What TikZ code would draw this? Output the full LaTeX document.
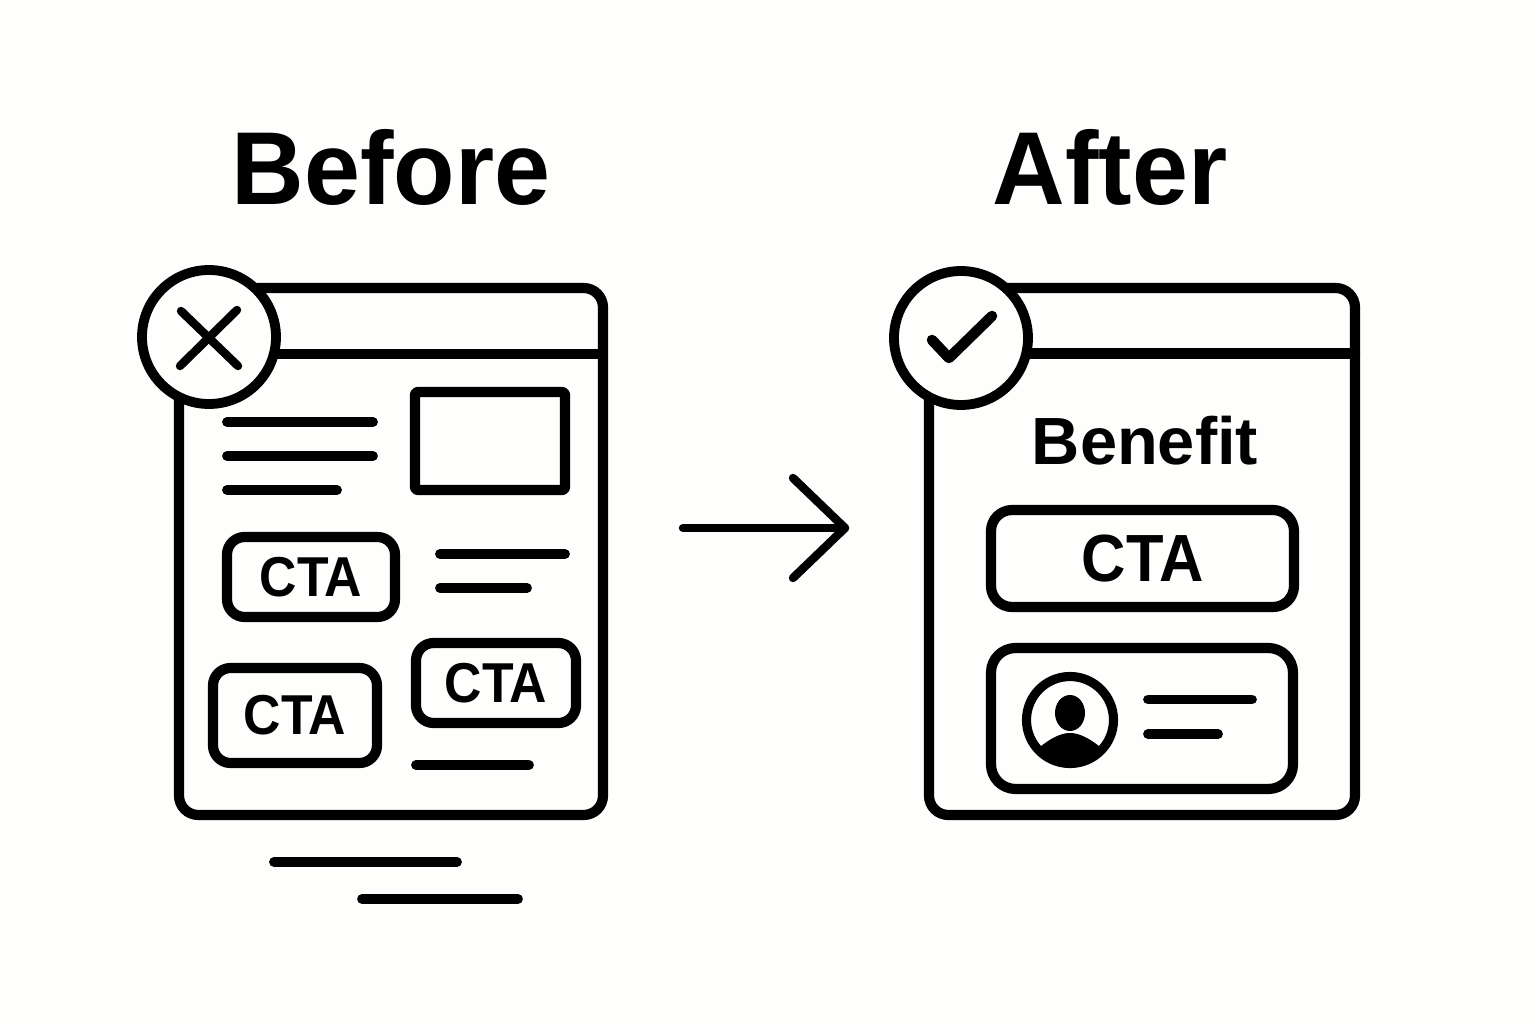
\documentclass[tikz,border=0pt]{standalone}
\usepackage{fontspec}
\usetikzlibrary{shapes.geometric}
\setmainfont{Liberation Sans}
\newfontfamily\labelfont[FakeStretch=0.92]{Liberation Sans}
\newfontfamily\titlefont[FakeStretch=0.97]{Liberation Sans}
\definecolor{paper}{HTML}{FEFEFC}
\def\px{0.02cm}
\begin{document}
\begin{tikzpicture}[x=0.02cm,y=-0.02cm,line cap=round,line join=round]
	\tikzstyle{inkline}=[line width=5.8pt]
	\tikzstyle{thinline}=[line width=5.6pt]
	\tikzstyle{crossline}=[line width=4.8pt]
	\tikzstyle{windowbox}=[draw,line width=5.8pt,rounded corners=11pt,inner sep=0pt]
	\tikzstyle{ctabox}=[draw,line width=5.8pt,rounded corners=10pt,inner sep=0pt,fill=paper,font=\labelfont\bfseries\fontsize{32}{32}\selectfont]
	\tikzstyle{badge}=[draw,circle,line width=5.6pt,fill=paper,inner sep=0pt,minimum size=134*\px]
	\tikzstyle{heading}=[anchor=base,inner sep=0pt,font=\titlefont\bfseries\fontsize{59}{59}\selectfont]
	\fill[paper] (0,0) rectangle (1536,1024);
	\useasboundingbox (0,0) rectangle (1536,1024);

	\node[heading] (beforetitle) at (391,205) {Before};
	\node[heading] (aftertitle) at (1110,205) {After};

	\node[windowbox,minimum width=424*\px,minimum height=527*\px] (beforewin) at (391,551.5) {};
	\draw[inkline] (240,354) -- (603,354);
	\node[badge] (beforebadge) at (209,337) {};
	\draw[crossline] (181,311) -- (238,366);
	\draw[crossline] (237,310) -- (180,366);

	\draw[thinline] (227,422) -- (373,422);
	\draw[thinline] (227,456) -- (373,456);
	\draw[thinline] (227,490) -- (337,490);
	\node[draw,line width=5.8pt,rounded corners=1.5pt,inner sep=0pt,minimum width=150*\px,minimum height=98*\px] (imagebox) at (490,441) {};

	\node[ctabox,minimum width=168*\px,minimum height=80*\px] (ctaone) at (311,577) {CTA};
	\draw[thinline] (440,554) -- (565,554);
	\draw[thinline] (440,588) -- (527,588);
	\node[ctabox,minimum width=164*\px,minimum height=95*\px] (ctatwo) at (295,715.5) {CTA};
	\node[ctabox,minimum width=160*\px,minimum height=80*\px] (ctathree) at (496,683) {CTA};
	\draw[thinline] (416,765) -- (529,765);

	\draw[thinline] (274,862) -- (457,862);
	\draw[thinline] (362,899) -- (518,899);

	\coordinate (arrowstart) at (683,528);
	\coordinate (arrowend) at (845,528);
	\coordinate (arrowup) at (793,478);
	\coordinate (arrowdown) at (793,578);
	\draw[crossline] (arrowstart) -- (arrowend);
	\draw[crossline] (arrowup) -- (arrowend) -- (arrowdown);

	\node[windowbox,minimum width=426*\px,minimum height=527*\px] (afterwin) at (1142,551.5) {};
	\draw[inkline] (1000,353.5) -- (1355,353.5);
	\node[badge] (afterbadge) at (961,338) {};
	\draw[line width=6pt] (932,340) -- (949,358) -- (992,316);

	\node[inner sep=0pt,font=\bfseries\fontsize{38}{38}\selectfont] (benefit) at (1145,441) {Benefit};
	\node[ctabox,rounded corners=12pt,minimum width=303*\px,minimum height=97*\px,font=\labelfont\bfseries\fontsize{38}{38}\selectfont] (ctafour) at (1142.5,558.5) {CTA};

	\node[windowbox,rounded corners=14pt,minimum width=302*\px,minimum height=141*\px] (profilebox) at (1142,718.5) {};
	\node[draw,circle,line width=5.2pt,inner sep=0pt,minimum size=87*\px] (avatar) at (1070,720) {};
	\node[fill,ellipse,inner sep=0pt,minimum width=30*\px,minimum height=36*\px] (avatarhead) at (1070,713) {};
	\fill (1040,747) .. controls (1052,737) and (1062,733) .. (1070,733) .. controls (1078,733) and (1088,737) .. (1100,747) arc[start angle=42,end angle=138,radius=40.4] -- cycle;
	\draw[thinline] (1148,699.5) -- (1252,699.5);
	\draw[thinline] (1148,734) -- (1218,734);
\end{tikzpicture}
\end{document}
